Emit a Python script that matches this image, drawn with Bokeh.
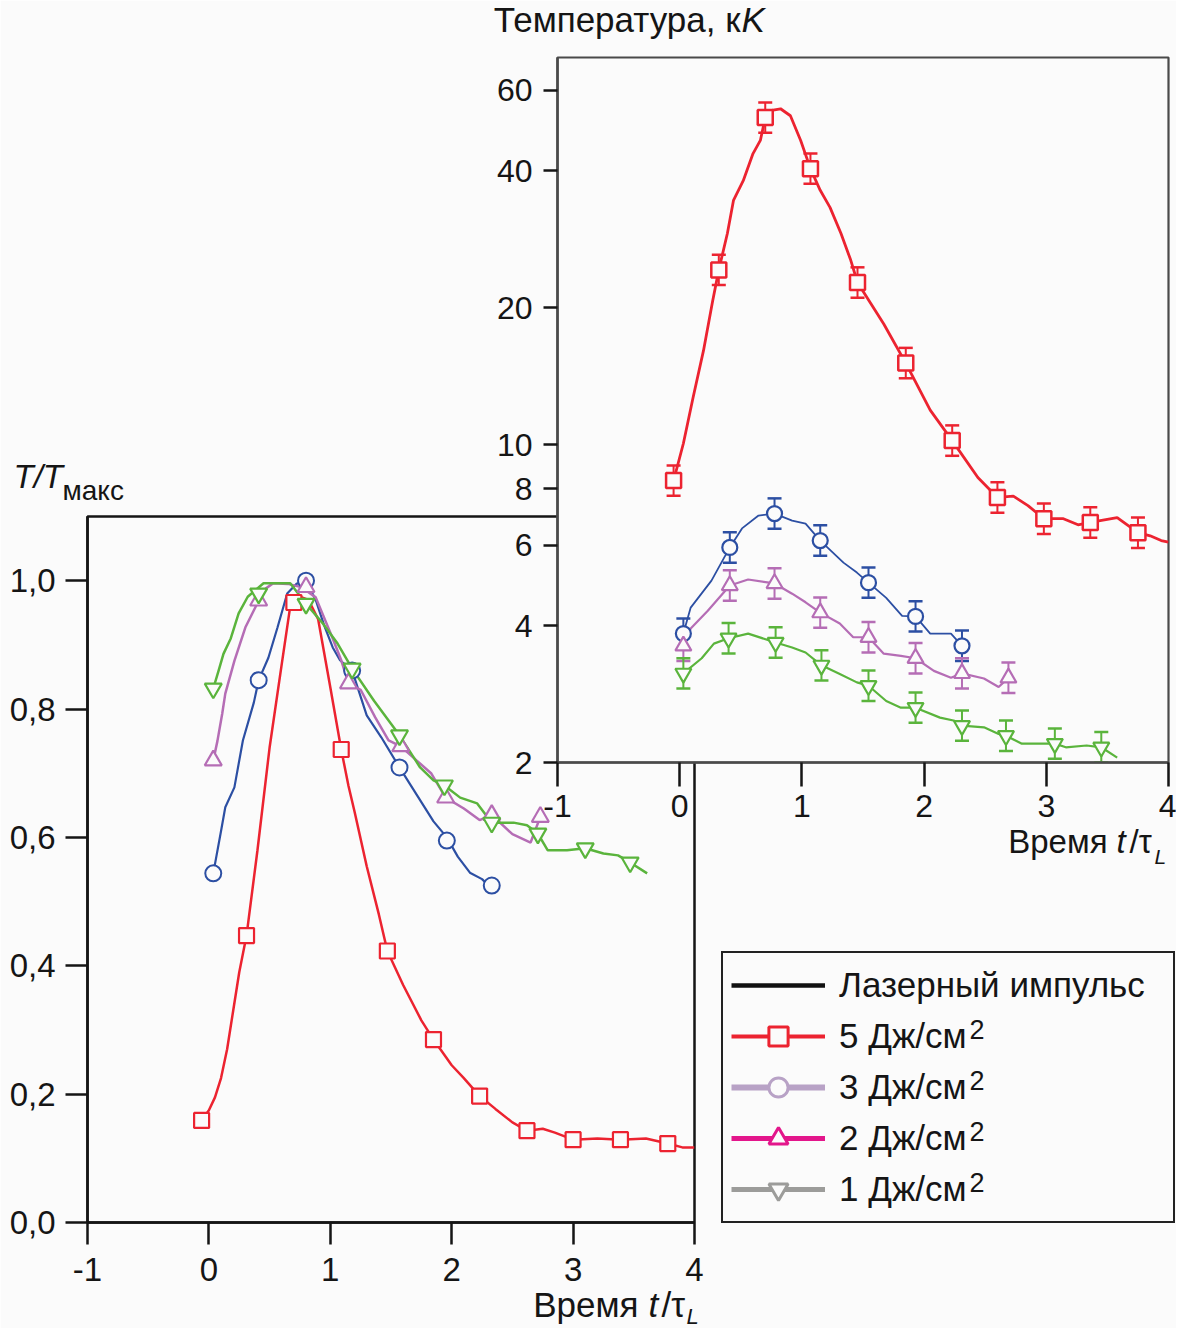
from bokeh.plotting import figure
from bokeh.models import (Range1d, FixedTicker, ColumnDataSource, Whisker, TeeHead,
                          Label, Legend, LegendItem)
from bokeh.embed import file_html
from bokeh.resources import INLINE

FONT = "Liberation Sans"
BG = "#fbfbfb"
RED = "#ec2330"
BLUE = "#2c4fa3"
PURPLE = "#b56db5"
GREEN = "#5ab43c"
INK = "#151515"
W, H = 1176, 1328
ABS = {"position": "absolute", "left": "0px", "top": "0px"}

# ---------------- main plot (normalised temperature) ----------------
main_x_ticks = [-1, 0, 1, 2, 3, 4]
main_y_ticks = [0.0, 0.2, 0.4, 0.6, 0.8, 1.0]
main_y_labels = ["0,0", "0,2", "0,4", "0,6", "0,8", "1,0"]

# 5 J/cm2 (red squares)
m5_x = [-0.06, 0.31, 0.70, 1.09, 1.47, 1.85, 2.23, 2.62, 3.00, 3.39, 3.78]
m5_y = [0.159, 0.447, 0.966, 0.737, 0.423, 0.285, 0.197, 0.143, 0.129, 0.129, 0.123]
m5_cx = [-0.06, 0.0, 0.05, 0.1, 0.15, 0.2, 0.25, 0.31, 0.4, 0.5, 0.6, 0.67, 0.75, 0.82,
         0.9, 1.0, 1.09, 1.15, 1.2, 1.3, 1.4, 1.47, 1.6, 1.75, 1.85, 2.0, 2.1, 2.23, 2.36,
         2.5, 2.62, 2.75, 2.85, 3.0, 3.2, 3.39, 3.6, 3.78, 3.9, 4.0]
m5_cy = [0.159, 0.175, 0.195, 0.225, 0.27, 0.33, 0.39, 0.447, 0.58, 0.74, 0.87, 0.96,
         0.975, 0.97, 0.94, 0.834, 0.737, 0.68, 0.64, 0.555, 0.48, 0.423, 0.37, 0.315,
         0.285, 0.245, 0.225, 0.197, 0.177, 0.156, 0.143, 0.146, 0.14, 0.129, 0.131,
         0.129, 0.131, 0.123, 0.117, 0.117]

# 3 J/cm2 (blue circles)
m3_x = [0.036, 0.41, 0.80, 1.18, 1.57, 1.96, 2.33]
m3_y = [0.544, 0.845, 1.0, 0.86, 0.709, 0.595, 0.525]
m3_cx = [0.036, 0.1, 0.135, 0.21, 0.28, 0.37, 0.41, 0.49, 0.565, 0.645, 0.72, 0.80, 0.88,
         0.95, 1.02, 1.08, 1.18, 1.3, 1.42, 1.57, 1.65, 1.75, 1.85, 1.96, 2.05, 2.15,
         2.25, 2.33]
m3_cy = [0.544, 0.61, 0.647, 0.678, 0.751, 0.81, 0.845, 0.88, 0.927, 0.98, 0.995, 1.0,
         0.97, 0.93, 0.896, 0.876, 0.86, 0.79, 0.756, 0.709, 0.685, 0.655, 0.625, 0.60,
         0.57, 0.545, 0.535, 0.52]

# 2 J/cm2 (purple triangles)
m2_x = [0.036, 0.41, 0.80, 1.15, 1.58, 1.95, 2.33, 2.73]
m2_y = [0.72, 0.969, 0.99, 0.84, 0.742, 0.662, 0.635, 0.632]
m2_cx = [0.036, 0.07, 0.11, 0.135, 0.21, 0.30, 0.41, 0.47, 0.53, 0.65, 0.76, 0.88, 1.02,
         1.09, 1.15, 1.25, 1.37, 1.48, 1.58, 1.71, 1.83, 1.95, 2.1, 2.23, 2.33, 2.5,
         2.65, 2.73]
m2_cy = [0.72, 0.75, 0.793, 0.824, 0.875, 0.927, 0.969, 0.988, 0.996, 0.995, 0.99,
         0.974, 0.91, 0.876, 0.84, 0.83, 0.787, 0.751, 0.742, 0.72, 0.70, 0.662, 0.645,
         0.627, 0.635, 0.605, 0.592, 0.632]

# 1 J/cm2 (green inverted triangles)
m1_x = [0.036, 0.41, 0.80, 1.18, 1.57, 1.94, 2.33, 2.71, 3.1, 3.47]
m1_y = [0.832, 0.98, 0.964, 0.863, 0.759, 0.681, 0.623, 0.606, 0.583, 0.561]
m1_cx = [0.036, 0.08, 0.12, 0.18, 0.245, 0.32, 0.45, 0.67, 0.80, 0.94, 1.06, 1.18, 1.36,
         1.50, 1.57, 1.74, 1.85, 1.94, 2.07, 2.21, 2.33, 2.51, 2.62, 2.71, 2.79, 2.95,
         3.1, 3.25, 3.37, 3.47, 3.61]
m1_cy = [0.832, 0.86, 0.886, 0.91, 0.949, 0.975, 0.996, 0.996, 0.964, 0.933, 0.902,
         0.863, 0.813, 0.777, 0.759, 0.709, 0.689, 0.681, 0.662, 0.653, 0.623, 0.623,
         0.619, 0.606, 0.58, 0.58, 0.583, 0.575, 0.572, 0.561, 0.544]

# ---------------- inset (temperature, kK, log scale) ----------------
ins_x_ticks = [-1, 0, 1, 2, 3, 4]
ins_y_ticks = [2, 4, 6, 8, 10, 20, 40, 60]
REL_ERR = 0.08

i5_x = [-0.05, 0.32, 0.70, 1.07, 1.455, 1.85, 2.23, 2.60, 2.98, 3.36, 3.75]
i5_v = [8.33, 24.2, 52.3, 40.4, 22.7, 15.1, 10.2, 7.65, 6.87, 6.74, 6.40]
i5_cx = [-0.05, 0.03, 0.11, 0.195, 0.27, 0.32, 0.39, 0.44, 0.52, 0.60, 0.66, 0.70, 0.74,
         0.825, 0.906, 0.99, 1.07, 1.15, 1.23, 1.32, 1.40, 1.455, 1.67, 1.85, 2.05, 2.23,
         2.44, 2.60, 2.73, 2.85, 2.98, 3.14, 3.26, 3.36, 3.58, 3.75, 3.85, 3.94, 4.0]
i5_cv = [8.33, 10.05, 12.7, 16.1, 20.7, 24.2, 29.1, 34.4, 38.0, 43.6, 46.6, 52.3, 54.2,
         54.7, 52.8, 46.6, 40.4, 36.2, 33.2, 29.1, 25.4, 22.7, 18.4, 15.1, 11.9, 10.2,
         8.46, 7.65, 7.7, 7.34, 6.87, 6.87, 6.66, 6.74, 6.91, 6.40, 6.3, 6.15, 6.1]

i3_x = [0.03, 0.41, 0.776, 1.15, 1.545, 1.93, 2.31]
i3_v = [3.84, 5.94, 7.05, 6.15, 4.97, 4.19, 3.61]
i3_cx = [0.03, 0.09, 0.26, 0.41, 0.51, 0.645, 0.776, 0.92, 1.03, 1.15, 1.34, 1.45, 1.545,
         1.69, 1.82, 1.93, 2.05, 2.22, 2.31]
i3_cv = [3.84, 4.38, 5.02, 5.94, 6.54, 6.98, 7.05, 6.8, 6.7, 6.15, 5.5, 5.23, 4.97, 4.6,
         4.2, 4.19, 3.84, 3.84, 3.61]

i2_x = [0.03, 0.41, 0.776, 1.15, 1.545, 1.93, 2.31, 2.69]
i2_v = [3.61, 4.90, 4.95, 4.27, 3.77, 3.39, 3.14, 3.07]
i2_cx = [0.03, 0.09, 0.23, 0.41, 0.56, 0.776, 0.92, 1.03, 1.15, 1.31, 1.42, 1.545, 1.67,
         1.81, 1.93, 2.08, 2.22, 2.31, 2.49, 2.61, 2.69]
i2_cv = [3.61, 3.94, 4.31, 4.90, 5.05, 4.95, 4.7, 4.5, 4.27, 4.04, 3.77, 3.77, 3.47, 3.43,
         3.39, 3.18, 3.07, 3.14, 3.06, 2.93, 3.07]

i1_x = [0.03, 0.40, 0.785, 1.16, 1.545, 1.93, 2.31, 2.67, 3.07, 3.45]
i1_v = [3.14, 3.75, 3.67, 3.27, 2.95, 2.64, 2.41, 2.29, 2.20, 2.16]
i1_cx = [0.03, 0.18, 0.28, 0.40, 0.56, 0.785, 0.92, 1.03, 1.16, 1.31, 1.45, 1.545, 1.69,
         1.81, 1.93, 2.13, 2.25, 2.31, 2.49, 2.61, 2.67, 2.8, 2.91, 3.07, 3.16, 3.33,
         3.45, 3.58]
i1_cv = [3.14, 3.39, 3.65, 3.75, 3.84, 3.67, 3.58, 3.49, 3.27, 3.13, 3.0, 2.95, 2.73,
         2.64, 2.64, 2.51, 2.47, 2.41, 2.39, 2.31, 2.29, 2.20, 2.2, 2.20, 2.16, 2.18, 2.16,
         2.05]

legend_labels = ["Лазерный импульс", "5 Дж/см", "3 Дж/см", "2 Дж/см", "1 Дж/см"]
legend_sup = ["", "2", "2", "2", "2"]


def style_axes(p, tick_out_x, tick_out_y, fs_x, fs_y, so_x, so_y, line_col):
    for ax in (p.xaxis[0], p.yaxis[0]):
        ax.axis_line_color = line_col
        ax.axis_line_width = 2.5
        ax.major_tick_line_color = INK
        ax.major_tick_line_width = 2.5
        ax.major_tick_in = 0
        ax.minor_tick_line_color = None
        ax.major_label_text_font = FONT
        ax.major_label_text_color = INK
    p.xaxis[0].major_tick_out = tick_out_x
    p.yaxis[0].major_tick_out = tick_out_y
    p.xaxis[0].major_label_text_font_size = fs_x
    p.yaxis[0].major_label_text_font_size = fs_y
    p.xaxis[0].major_label_standoff = so_x
    p.yaxis[0].major_label_standoff = so_y
    p.grid.visible = False


# ---------------- main figure (bottom-left plot) ----------------
main = figure(width=W, height=H, x_range=Range1d(-1, 4), y_range=Range1d(0, 1.1),
              output_backend="svg", toolbar_location=None,
              min_border_left=87, min_border_right=W - 694, min_border_top=516,
              min_border_bottom=H - 1222, background_fill_color=BG, border_fill_color=BG,
              outline_line_color=INK, outline_line_width=2.5, styles=ABS)
style_axes(main, 22, 22, "33px", "33px", 13, 10, INK)
main.xaxis[0].ticker = FixedTicker(ticks=main_x_ticks)
main.xaxis[0].major_label_overrides = {t: str(t) for t in main_x_ticks}
main.yaxis[0].ticker = FixedTicker(ticks=main_y_ticks)
main.yaxis[0].major_label_overrides = dict(zip(main_y_ticks, main_y_labels))

main.line(m5_cx, m5_cy, line_color=RED, line_width=2.5)
main.line(m3_cx, m3_cy, line_color=BLUE, line_width=2.2)
main.line(m2_cx, m2_cy, line_color=PURPLE, line_width=2.5)
main.line(m1_cx, m1_cy, line_color=GREEN, line_width=2.5)
main.scatter(m5_x, m5_y, marker="square", size=15, line_color=RED, line_width=2.2, fill_color=BG)
main.scatter(m3_x, m3_y, marker="circle", size=16, line_color=BLUE, line_width=2, fill_color=BG)
main.scatter(m2_x, m2_y, marker="triangle", size=17, line_color=PURPLE, line_width=2.2, fill_color=BG)
main.scatter(m1_x, m1_y, marker="inverted_triangle", size=17, line_color=GREEN, line_width=2.2,
             fill_color=BG)

# ---------------- inset figure (top-right plot, log scale) ----------------
ins = figure(width=W, height=H, x_range=Range1d(-1, 4), y_range=Range1d(2, 70.9),
             y_axis_type="log", output_backend="svg", toolbar_location=None,
             min_border_left=557, min_border_right=W - 1168, min_border_top=57,
             min_border_bottom=H - 762, background_fill_color=BG, border_fill_alpha=0.0,
             outline_line_color="#4a4a4a", outline_line_width=2.2, styles=ABS)
style_axes(ins, 24, 14, "32px", "32px", 8, 11, "#4a4a4a")
ins.xaxis[0].ticker = FixedTicker(ticks=ins_x_ticks)
ins.xaxis[0].major_label_overrides = {t: str(t) for t in ins_x_ticks}
ins.yaxis[0].ticker = FixedTicker(ticks=ins_y_ticks)
ins.yaxis[0].major_label_overrides = {t: str(t) for t in ins_y_ticks}


def add_err(p, xs, vs, color):
    src = ColumnDataSource(data=dict(x=xs, lo=[v / (1 + REL_ERR) for v in vs],
                                     hi=[v * (1 + REL_ERR) for v in vs]))
    w = Whisker(source=src, base="x", lower="lo", upper="hi", dimension="height",
                line_color=color, line_width=2, level="underlay",
                upper_head=TeeHead(size=14, line_color=color, line_width=2.5),
                lower_head=TeeHead(size=14, line_color=color, line_width=2.5))
    p.add_layout(w)


add_err(ins, i5_x, i5_v, RED)
add_err(ins, i3_x, i3_v, BLUE)
add_err(ins, i2_x, i2_v, PURPLE)
add_err(ins, i1_x, i1_v, GREEN)

ins.line(i5_cx, i5_cv, line_color=RED, line_width=2.8)
ins.line(i3_cx, i3_cv, line_color=BLUE, line_width=1.8)
ins.line(i2_cx, i2_cv, line_color=PURPLE, line_width=2.2)
ins.line(i1_cx, i1_cv, line_color=GREEN, line_width=2.2)
ins.scatter(i5_x, i5_v, marker="square", size=15, line_color=RED, line_width=2.5, fill_color=BG)
ins.scatter(i3_x, i3_v, marker="circle", size=15, line_color=BLUE, line_width=2.2, fill_color=BG)
ins.scatter(i2_x, i2_v, marker="triangle", size=16, line_color=PURPLE, line_width=2.2, fill_color=BG)
ins.scatter(i1_x, i1_v, marker="inverted_triangle", size=16, line_color=GREEN, line_width=2.2,
            fill_color=BG)


# ---------------- overlays: axis titles, legend, superscripts (page pixel coordinates) -------
def overlay():
    f = figure(width=W, height=H, x_range=Range1d(0, W), y_range=Range1d(H, 0),
               output_backend="svg", toolbar_location=None, x_axis_location=None,
               y_axis_location=None, min_border=0, outline_line_color=None,
               background_fill_alpha=0.0, border_fill_alpha=0.0, styles=ABS)
    f.grid.visible = False
    return f


ov = overlay()
top = overlay()


def txt(fig, x, y, s, size, italic=False, align="left"):
    # y is the wanted baseline; the renderer sits the text lower by ~0.36 em
    fig.add_layout(Label(x=x, y=y - round(0.36 * size), text=s, text_font=FONT,
                         text_font_size=f"{size}px",
                         text_font_style="italic" if italic else "normal", text_color=INK,
                         text_align=align, text_baseline="alphabetic"))


# main plot titles
txt(ov, 13, 488, "T/T", 33, italic=True)
txt(ov, 62, 500, "макс", 28)
txt(ov, 638, 1317, "Время", 35, align="right")
txt(ov, 648, 1317, "t", 35, italic=True)
txt(ov, 661, 1317, "/τ", 35)
txt(ov, 686, 1324, "L", 22, italic=True)
# inset titles
txt(ov, 740, 32, "Температура, к", 35, align="right")
txt(ov, 741, 32, "K", 35, italic=True)
txt(ov, 1107, 853, "Время", 33, align="right")
txt(ov, 1116, 853, "t", 33, italic=True)
txt(ov, 1129, 853, "/τ", 33)
txt(ov, 1154, 864, "L", 21, italic=True)

# legend (off-canvas single-point renderers reproduce the legend symbols)
OFF = dict(x=[-500], y=[-500])
r_laser = ov.line(line_color="#111111", line_width=4.5, **OFF)
r5l = ov.line(line_color=RED, line_width=4, **OFF)
r5m = ov.scatter(marker="square", line_color=RED, line_width=3, fill_color=BG, **OFF)
r3l = ov.line(line_color="#b8a2c6", line_width=6, **OFF)
r3m = ov.scatter(marker="circle", line_color="#b8a2c6", line_width=3, fill_color=BG, **OFF)
r2l = ov.line(line_color="#e3168b", line_width=5, **OFF)
r2m = ov.scatter(marker="triangle", line_color="#e3168b", line_width=3, fill_color=BG, **OFF)
r1l = ov.line(line_color="#9c9c9a", line_width=5, **OFF)
r1m = ov.scatter(marker="inverted_triangle", line_color="#9c9c9a", line_width=3,
                 fill_color=BG, **OFF)
items = [LegendItem(label=legend_labels[0], renderers=[r_laser]),
         LegendItem(label=legend_labels[1], renderers=[r5l, r5m]),
         LegendItem(label=legend_labels[2], renderers=[r3l, r3m]),
         LegendItem(label=legend_labels[3], renderers=[r2l, r2m]),
         LegendItem(label=legend_labels[4], renderers=[r1l, r1m])]
LEG_TOP, LEG_PAD, ROW_H, ROW_GAP = 955, 8, 48, 3
legend = Legend(items=items, location=(721, H - 1223), padding=LEG_PAD, spacing=ROW_GAP,
                label_height=ROW_H, glyph_height=ROW_H, glyph_width=94, label_standoff=14,
                label_width=326, label_text_font=FONT, label_text_font_size="35px",
                label_text_color=INK, border_line_color="#222222", border_line_width=2.5,
                border_line_alpha=1.0, background_fill_color=BG, background_fill_alpha=1.0)
ov.add_layout(legend, "center")

# superscript "2" of the units in the legend labels (separate layer above the legend box)
for i, sup in enumerate(legend_sup):
    if sup:
        row_center = LEG_TOP + LEG_PAD + ROW_H / 2 + i * (ROW_H + ROW_GAP)
        txt(top, 969, row_center + 1, sup, 27)

open("out.html", "w").write(file_html([main, ins, ov, top], INLINE))
